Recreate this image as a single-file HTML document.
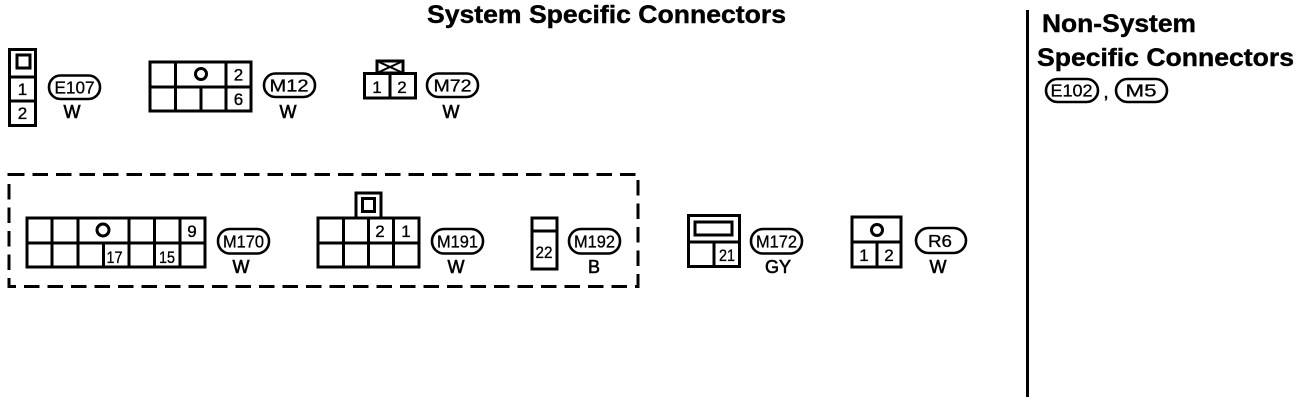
<!DOCTYPE html>
<html><head><meta charset="utf-8">
<style>
html,body{margin:0;padding:0;background:#fff;width:1312px;height:402px;overflow:hidden}
svg{display:block}
text{font-family:"Liberation Sans",sans-serif;fill:#000;text-anchor:middle}
.t{font-weight:bold;font-size:25px;text-anchor:start;stroke:#000;stroke-width:.4px}
.n{font-size:17px;stroke:#000;stroke-width:.35px}
.p{font-size:17.5px;stroke:#000;stroke-width:.3px}
.c{font-size:18px;stroke:#000;stroke-width:.6px}
.s{fill:none;stroke:#000;stroke-width:3}
.b{fill:#fff;stroke:#000;stroke-width:3}
.o{fill:#fff;stroke:#000;stroke-width:2.6}
</style></head><body>
<svg width="1312" height="402" viewBox="0 0 1312 402" xmlns="http://www.w3.org/2000/svg">
<text class="t" x="427" y="23" textLength="359" lengthAdjust="spacingAndGlyphs">System Specific Connectors</text>
<text class="t" x="1042" y="32" textLength="154" lengthAdjust="spacingAndGlyphs">Non-System</text>
<text class="t" x="1037" y="66" textLength="257" lengthAdjust="spacingAndGlyphs">Specific Connectors</text>
<rect x="1026" y="10" width="3" height="387" fill="#000"/>

<!-- E107 -->
<rect class="b" x="9.5" y="49.5" width="26" height="76"/>
<path class="s" d="M9 77H36M9 101H36"/>
<rect class="s" x="17" y="55" width="13" height="13"/>
<text class="n" x="22.5" y="95">1</text><text class="n" x="22.5" y="119">2</text>
<rect class="o" x="49" y="75.500" width="51" height="23.500" rx="11.500"/>
<text class="p" x="74.500" y="93.500" textLength="40" lengthAdjust="spacingAndGlyphs">E107</text>
<text class="c" x="72" y="118">W</text>

<!-- M12 -->
<rect class="b" x="150" y="62" width="101" height="49"/>
<path class="s" d="M150 87H251M175.500 62V111M226 62V111M201 87V111"/>
<circle class="s" cx="201" cy="74" r="5.500"/>
<text class="n" x="238.500" y="80.500">2</text><text class="n" x="238.500" y="105">6</text>
<rect class="o" x="264" y="73.500" width="51" height="23.500" rx="11.500"/>
<text class="p" x="289" y="91.500" textLength="39" lengthAdjust="spacingAndGlyphs">M12</text>
<text class="c" x="288" y="118">W</text>

<!-- M72 -->
<rect class="b" x="377" y="61" width="26" height="12"/>
<path d="M379 62L390 67L401 62M379 72L390 67L401 72" fill="none" stroke="#000" stroke-width="2"/>
<rect class="b" x="364.500" y="73.500" width="51" height="24.500"/>
<path class="s" d="M390 73V98"/>
<text class="n" x="377" y="93">1</text><text class="n" x="402" y="93">2</text>
<rect class="o" x="427" y="73.500" width="51" height="23.500" rx="11.500"/>
<text class="p" x="452.500" y="91.500" textLength="38" lengthAdjust="spacingAndGlyphs">M72</text>
<text class="c" x="451" y="118">W</text>

<!-- dashed group -->
<rect x="9" y="174.500" width="629" height="112" fill="none" stroke="#000" stroke-width="3" stroke-dasharray="15.500 8"/>

<!-- M170 -->
<rect class="b" x="27" y="218" width="178" height="49"/>
<path class="s" d="M27 243H205M52 218V267M78 218V267M129 218V267M154.500 218V267M180 218V267M103.500 243V267"/>
<circle class="s" cx="103" cy="230" r="6"/>
<text class="n" x="192" y="237">9</text><text class="n" x="114.500" y="263" textLength="16" lengthAdjust="spacingAndGlyphs">17</text><text class="n" x="167" y="263" textLength="16" lengthAdjust="spacingAndGlyphs">15</text>
<rect class="o" x="218" y="229" width="51" height="24.500" rx="12"/>
<text class="p" x="243.500" y="247.500" textLength="41" lengthAdjust="spacingAndGlyphs">M170</text>
<text class="c" x="241" y="273">W</text>

<!-- M191 -->
<rect class="b" x="356" y="193" width="25" height="25"/>
<rect class="s" x="362.500" y="198.500" width="12" height="13"/>
<rect class="b" x="318" y="218" width="101" height="49"/>
<path class="s" d="M318 243H419M343.500 218V267M368.500 218V267M393.500 218V267"/>
<text class="n" x="380" y="237">2</text><text class="n" x="406" y="237">1</text>
<rect class="o" x="432" y="229" width="51" height="24.500" rx="12"/>
<text class="p" x="457.500" y="247.500" textLength="41" lengthAdjust="spacingAndGlyphs">M191</text>
<text class="c" x="456" y="273">W</text>

<!-- M192 -->
<rect class="b" x="532" y="218" width="25" height="51"/>
<path class="s" d="M532 231H557"/>
<text class="n" x="544" y="258" textLength="17" lengthAdjust="spacingAndGlyphs">22</text>
<rect class="o" x="569" y="229" width="51" height="24.500" rx="12"/>
<text class="p" x="594.500" y="247.500" textLength="41" lengthAdjust="spacingAndGlyphs">M192</text>
<text class="c" x="594" y="273">B</text>

<!-- M172 -->
<rect class="b" x="688.500" y="215.500" width="51" height="51" stroke-width="3.500"/>
<path class="s" d="M688 242H740M714 242V267"/>
<rect class="s" x="695" y="222" width="37" height="13"/>
<text class="n" x="727" y="261" textLength="16" lengthAdjust="spacingAndGlyphs">21</text>
<rect class="o" x="751" y="229" width="51" height="24.500" rx="12"/>
<text class="p" x="776.500" y="247.500" textLength="41" lengthAdjust="spacingAndGlyphs">M172</text>
<text class="c" x="778" y="273">GY</text>

<!-- R6 -->
<rect class="b" x="852" y="217" width="49" height="50"/>
<path class="s" d="M852 242H901M877 242V267"/>
<circle class="s" cx="877" cy="230" r="5.500"/>
<text class="n" x="864" y="261">1</text><text class="n" x="889" y="261">2</text>
<rect class="o" x="916" y="228" width="50" height="25" rx="12.500"/>
<text class="p" x="940" y="247" textLength="24" lengthAdjust="spacingAndGlyphs">R6</text>
<text class="c" x="938" y="273">W</text>

<!-- Non-system pills -->
<rect class="o" x="1046" y="79" width="52" height="23" rx="11.500"/>
<text class="p" x="1071.500" y="96.500" textLength="42" lengthAdjust="spacingAndGlyphs">E102</text>
<text class="c" x="1106" y="98">,</text>
<rect class="o" x="1116" y="79" width="51" height="23" rx="11.500"/>
<text class="p" x="1141" y="96.500" textLength="31" lengthAdjust="spacingAndGlyphs">M5</text>
</svg>
</body></html>
